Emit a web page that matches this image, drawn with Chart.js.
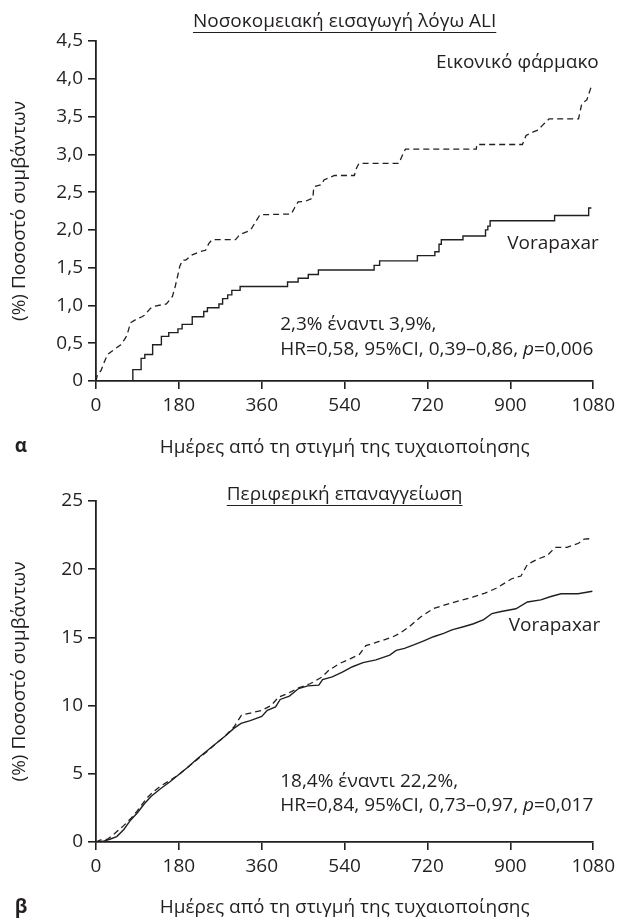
<!DOCTYPE html>
<html><head><meta charset="utf-8">
<script src="https://cdn.jsdelivr.net/npm/chart.js@4.4.1/dist/chart.umd.min.js"></script>
<style>
html,body{margin:0;padding:0;background:#fff;}
#wrap{position:relative;width:620px;height:920px;overflow:hidden;}
.panel{position:absolute;left:0;width:620px;height:460px;}
</style></head><body>
<div id="wrap">
<div class="panel" style="top:0"><canvas id="cA" width="620" height="460"></canvas></div>
<div class="panel" style="top:460px"><canvas id="cB" width="620" height="460"></canvas></div>
</div>
<script>
// ---------- data ----------
const xTickLabels = ['0','180','360','540','720','900','1080'];
const yTickLabelsA = ['0','0,5','1,0','1,5','2,0','2,5','3,0','3,5','4,0','4,5'];
const yTickLabelsB = ['0','5','10','15','20','25'];

// Panel α – Vorapaxar (solid, step function)
const daysA_vora = [0,80,98,106,123,142,158,178,187,209,234,242,267,275,286,295,313,416,439,461,483,604,616,698,736,745,750,797,846,851,856,996,1070,1076];
const valsA_vora = [0,0.15,0.30,0.35,0.48,0.59,0.64,0.69,0.75,0.85,0.92,0.97,1.02,1.09,1.14,1.20,1.25,1.31,1.36,1.41,1.47,1.53,1.59,1.66,1.71,1.81,1.87,1.92,2.00,2.05,2.12,2.19,2.29,2.29];

// Panel α – Placebo (dashed)
const daysA_plac = [0,3,11,18,25,40,54,62,67,75,88,100,105,118,127,153,166,172,177,182,188,195,209,225,238,245,252,303,310,317,330,338,348,356,424,432,439,455,471,473,490,495,518,561,566,571,658,665,672,826,827,926,934,951,960,969,984,1048,1055,1066,1073,1076];
const valsA_plac = [0,0.08,0.14,0.25,0.35,0.42,0.48,0.55,0.60,0.77,0.82,0.85,0.87,0.96,0.99,1.02,1.12,1.25,1.38,1.52,1.60,1.60,1.67,1.71,1.73,1.82,1.87,1.87,1.92,1.95,1.98,2.02,2.12,2.20,2.21,2.30,2.37,2.38,2.42,2.57,2.60,2.66,2.72,2.72,2.82,2.88,2.88,2.98,3.07,3.07,3.13,3.13,3.25,3.30,3.32,3.38,3.47,3.47,3.67,3.72,3.85,3.90];

// Panel β – Vorapaxar (solid)
const daysB_vora = [0,15,30,45,60,75,90,105,120,140,160,180,200,220,240,260,280,300,315,335,360,372,390,400,420,440,460,484,492,513,535,557,580,608,638,652,670,690,712,733,755,773,800,820,842,860,880,912,937,966,988,1010,1047,1078];
const valsB_vora = [0,0.05,0.2,0.4,0.9,1.6,2.15,2.8,3.35,3.9,4.4,4.95,5.5,6.1,6.65,7.2,7.75,8.35,8.7,8.9,9.2,9.65,9.9,10.45,10.7,11.25,11.45,11.5,11.9,12.1,12.45,12.85,13.15,13.35,13.7,14.05,14.2,14.45,14.75,15.05,15.3,15.55,15.8,16.0,16.3,16.75,16.9,17.1,17.6,17.75,18.0,18.2,18.2,18.38];

// Panel β – Placebo (dashed)
const daysB_plac = [0,10,25,40,60,75,90,110,125,140,160,180,200,220,240,260,280,300,316,335,360,380,396,420,440,465,491,506,530,553,572,586,615,645,660,681,705,732,760,791,818,845,869,903,923,937,960,980,997,1023,1048,1060,1078];
const valsB_plac = [0,0.15,0.2,0.6,1.2,1.7,2.3,3.2,3.7,4.1,4.5,4.95,5.5,6.05,6.6,7.2,7.75,8.45,9.3,9.45,9.65,10.0,10.6,10.95,11.3,11.6,12.1,12.6,13.1,13.45,13.75,14.4,14.7,15.05,15.3,15.8,16.5,17.1,17.4,17.7,17.95,18.25,18.6,19.3,19.5,20.35,20.75,21.0,21.6,21.6,21.9,22.2,22.25];

// ---------- style ----------
const INK = '#231f20';
const FONT = '"Open Sans", "Noto Sans", sans-serif';
const FS = 19;

function pts(d, v){ return d.map((x,i)=>({x:x, y:v[i]})); }

const textPlugin = {
  id: 'texts',
  afterDraw(chart, args, o){
    const ctx = chart.ctx, xs = chart.scales.x, ys = chart.scales.y, ca = chart.chartArea;
    ctx.save();
    ctx.fillStyle = INK; ctx.strokeStyle = INK;
    ctx.textBaseline = 'middle';
    ctx.font = FS + 'px ' + FONT;
    ctx.textAlign = 'center';
    const cx = (ca.left + ca.right)/2;
    ctx.fillText(o.title, cx, o.titleY);
    const tw = ctx.measureText(o.title).width;
    ctx.lineWidth = 1;
    ctx.beginPath(); ctx.moveTo(cx - tw/2, o.titleY + o.ulOff); ctx.lineTo(cx + tw/2, o.titleY + o.ulOff); ctx.stroke();
    ctx.font = 'bold ' + FS + 'px ' + FONT;
    ctx.fillText(o.letter, o.letterX, o.letterY);
    o.notes.forEach(n => {
      let x = xs.getPixelForValue(n.x), y = ys.getPixelForValue(n.y);
      const parts = n.parts;
      let total = 0;
      parts.forEach(p => { ctx.font = (p.i ? 'italic ' : '') + FS + 'px ' + FONT; p.w = ctx.measureText(p.t).width; total += p.w; });
      if (n.align === 'right') x -= total;
      ctx.textAlign = 'left';
      parts.forEach(p => { ctx.font = (p.i ? 'italic ' : '') + FS + 'px ' + FONT; ctx.fillText(p.t, x, y); x += p.w; });
    });
    ctx.restore();
  }
};

function makeChart(id, cfg){
  return new Chart(document.getElementById(id), {
    type: 'line',
    data: { datasets: [
      { data: cfg.vora, borderColor: INK, borderWidth: 1.4, pointRadius: 0, stepped: cfg.step ? 'before' : false, tension: 0, fill: false },
      { data: cfg.plac, borderColor: INK, borderWidth: 1.3, borderDash: [6,4], pointRadius: 0, stepped: false, tension: 0, fill: false }
    ]},
    options: {
      responsive: false, animation: false, devicePixelRatio: 1,
      layout: { padding: { top: 41, right: 22, left: 0, bottom: 0 } },
      plugins: { legend: {display:false}, tooltip: {enabled:false}, title: {display:false}, texts: cfg.texts },
      scales: {
        x: {
          type: 'linear', min: 0, max: 1080,
          afterFit: s => { s.height = cfg.xh; },
          ticks: { stepSize: 180, color: INK, font: { family: FONT, size: FS }, padding: 5, maxRotation: 0,
                   callback: (v, i) => xTickLabels[i] },
          grid: { drawOnChartArea: false, drawTicks: true, tickLength: 8, color: INK, lineWidth: 1.6 },
          border: { display: true, color: INK, width: 1.8 },
          title: { display: true, text: 'Ημέρες από τη στιγμή της τυχαιοποίησης', color: INK, font: { family: FONT, size: FS }, padding: { top: 0, bottom: 1 } }
        },
        y: {
          min: 0, max: cfg.ymax,
          afterFit: s => { s.width = 96; },
          ticks: { stepSize: cfg.ystep, color: INK, font: { family: FONT, size: FS }, padding: 5,
                   callback: (v, i) => cfg.ylabels[i] },
          grid: { drawOnChartArea: false, drawTicks: true, tickLength: 8, color: INK, lineWidth: 1.6 },
          border: { display: true, color: INK, width: 1.8 },
          title: { display: true, text: '(%) Ποσοστό συμβάντων', color: INK, font: { family: FONT, size: FS }, padding: { top: 8, bottom: 0 } }
        }
      }
    },
    plugins: [textPlugin]
  });
}

makeChart('cA', {
  vora: pts(daysA_vora, valsA_vora), plac: pts(daysA_plac, valsA_plac), step: true,
  ymax: 4.5, ystep: 0.5, ylabels: yTickLabelsA, xh: 79,
  texts: {
    title: 'Νοσοκομειακή εισαγωγή λόγω ALI', titleY: 22, ulOff: 10.5,
    letter: 'α', letterX: 21, letterY: 447,
    notes: [
      { x: 1092, y: 4.22, align: 'right', parts: [{t:'Εικονικό φάρμακο'}] },
      { x: 1092, y: 1.82, align: 'right', parts: [{t:'Vorapaxar'}] },
      { x: 400, y: 0.74, align: 'left', parts: [{t:'2,3% έναντι 3,9%,'}] },
      { x: 400, y: 0.41, align: 'left', parts: [{t:'HR=0,58, 95%CI, 0,39–0,86, '},{t:'p', i:true},{t:'=0,006'}] }
    ]
  }
});

makeChart('cB', {
  vora: pts(daysB_vora, valsB_vora), plac: pts(daysB_plac, valsB_plac), step: false,
  ymax: 25, ystep: 5, ylabels: yTickLabelsB, xh: 78,
  texts: {
    title: 'Περιφερική επαναγγείωση', titleY: 35, ulOff: 10.5,
    letter: 'β', letterX: 21, letterY: 448,
    notes: [
      { x: 1095, y: 15.9, align: 'right', parts: [{t:'Vorapaxar'}] },
      { x: 400, y: 4.4, align: 'left', parts: [{t:'18,4% έναντι 22,2%,'}] },
      { x: 400, y: 2.64, align: 'left', parts: [{t:'HR=0,84, 95%CI, 0,73–0,97, '},{t:'p', i:true},{t:'=0,017'}] }
    ]
  }
});
</script>
</body></html>
